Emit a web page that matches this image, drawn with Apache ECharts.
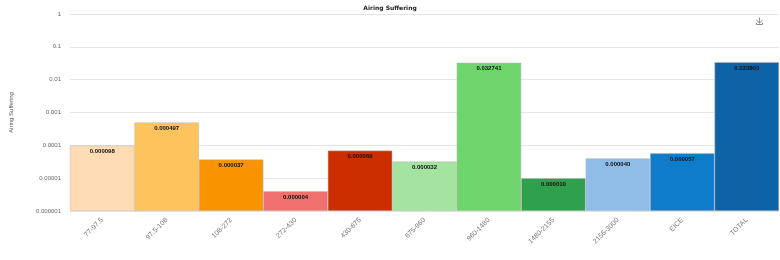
<!DOCTYPE html>
<html>
<head>
<meta charset="utf-8">
<script src="https://cdn.jsdelivr.net/npm/echarts@6/dist/echarts.min.js"></script>
<style>
  html, body { margin: 0; padding: 0; background: #fff; }
  #main { width: 780px; height: 260px; }
</style>
</head>
<body>
<div id="main"></div>
<script>
var categories = ['77-97.5', '97.5-108', '108-272', '272-430', '430-675', '675-960', '960-1480', '1480-2155', '2155-3000', 'EICE', 'TOTAL'];
var values = [0.000098, 0.000497, 0.000037, 0.000004, 0.000069, 0.000032, 0.032741, 0.000010, 0.000040, 0.000057, 0.033803];
var barColors = ['#fddcb5', '#fdc45e', '#f79400', '#f07070', '#cc2e00', '#a4e3a0', '#6dd56c', '#2ea04e', '#90bce8', '#0f7cc9', '#0d63a5'];
var yTickLabels = ['0.000001', '0.00001', '0.0001', '0.001', '0.01', '0.1', '1'];

var chartDom = document.getElementById('main');
var myChart = echarts.init(chartDom);

// log scale drawn as decades above 0.000001 so bars grow up from the bottom
var data = [];
for (var i = 0; i < values.length; i++) {
  data.push({ value: Math.log10(values[i]) + 6, raw: values[i], itemStyle: { color: barColors[i] } });
}

var option = {
  animation: false,
  title: {
    text: 'Airing Suffering',
    left: 'center',
    top: 0,
    textStyle: { fontSize: 6, fontWeight: 'bold', color: '#222', fontFamily: 'DejaVu Sans' }
  },
  toolbox: {
    right: 0,
    top: 0,
    itemSize: 7,
    iconStyle: { borderColor: '#888' },
    feature: { saveAsImage: {} }
  },
  grid: {
    left: 69,
    right: 1,
    top: 14,
    bottom: 49
  },
  xAxis: {
    type: 'category',
    data: categories,
    axisLine: { show: false },
    axisTick: { show: false },
    axisLabel: {
      interval: 0,
      rotate: 45,
      fontSize: 7,
      color: '#777',
      margin: 8
    }
  },
  yAxis: {
    type: 'value',
    min: 0,
    max: 6,
    interval: 1,
    name: 'Airing Suffering',
    nameLocation: 'middle',
    nameGap: 56,
    nameTextStyle: { fontSize: 6, color: '#555' },
    axisLine: { show: false },
    axisTick: { show: false },
    splitLine: { lineStyle: { color: '#e6e6e6' } },
    axisLabel: {
      fontSize: 6,
      color: '#666',
      margin: 9,
      formatter: function (v) { return yTickLabels[Math.round(v)]; }
    }
  },
  series: [
    {
      type: 'bar',
      barCategoryGap: '0%',
      data: data,
      itemStyle: { borderColor: '#bbbbbb', borderWidth: 0.5 },
      label: {
        show: true,
        position: 'insideTop',
        distance: 3,
        fontSize: 6,
        fontWeight: 'bold',
        color: '#111',
        formatter: function (p) { return p.data.raw.toFixed(6); }
      }
    }
  ]
};

option && myChart.setOption(option);
</script>
</body>
</html>
